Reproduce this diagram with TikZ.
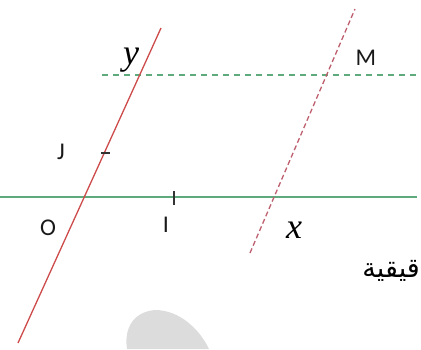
\documentclass[tikz,border=0pt]{standalone}
\usepackage{fontspec}
\setmainfont{Carlito}
\newfontfamily\serifit{Liberation Serif}
\newfontfamily\arabicfont[Script=Arabic]{DejaVu Sans}
\TeXXeTstate=1
\definecolor{axisgreen}{RGB}{95,170,125}
\definecolor{axisred}{RGB}{205,75,75}
\definecolor{dashred}{RGB}{190,95,110}
\definecolor{blobgray}{RGB}{220,220,220}
\begin{document}
\begin{tikzpicture}[x=1pt,y=-1pt,
  solidgreen/.style={draw=axisgreen,line width=1.4pt},
  dashgreen/.style={draw=axisgreen,line width=1.3pt,dash pattern=on 6pt off 5pt},
  solidred/.style={draw=axisred,line width=1.3pt},
  dashred/.style={draw=dashred,line width=1.3pt,dash pattern=on 5pt off 3pt},
  tickmark/.style={draw=black!80,line width=1.2pt},
  ptlabel/.style={font=\fontsize{24}{26}\selectfont,text=black!90,inner sep=0pt},
  mathlabel/.style={font=\serifit\itshape\fontsize{36}{38}\selectfont,inner sep=0pt}]
\useasboundingbox (0,0) rectangle (421,349);
% watermark blob
\fill[blobgray] (127,349) .. controls (124,330) and (132,312) .. (155,310)
  .. controls (180,310) and (200,330) .. (209,349) -- cycle;
% coordinates
\coordinate (hL) at (0,197);
\coordinate (hR) at (417,197);
\coordinate (dL) at (102,75);
\coordinate (dR) at (421,75);
\coordinate (rB) at (18,343);
\coordinate (rT) at (161,28);
\coordinate (qB) at (250,253);
\coordinate (qT) at (355,9);
% lines
\draw[solidgreen] (hL) -- (hR);
\draw[dashgreen] (dL) -- (dR);
\draw[solidred] (rB) -- (rT);
\draw[dashred] (qB) -- (qT);
% ticks
\coordinate (jA) at (101,153);
\coordinate (jB) at (110,153);
\coordinate (iA) at (174,191);
\coordinate (iB) at (174,205);
\draw[tickmark] (jA) -- (jB);
\draw[tickmark] (iA) -- (iB);
% labels
\node[mathlabel] (ylab) at (131,60) {y};
\node[mathlabel] (xlab) at (294,230) {x};
\node[ptlabel] (M) at (366,58) {M};
\node[ptlabel] (J) at (61,152) {J};
\node[ptlabel] (O) at (48,228) {O};
\node[ptlabel] (I) at (166,225) {I};
\node[anchor=base east,inner sep=0pt,font=\arabicfont\fontsize{27}{29}\selectfont] (ar) at (420,277) {\beginR قيقية\endR};
\end{tikzpicture}
\end{document}
